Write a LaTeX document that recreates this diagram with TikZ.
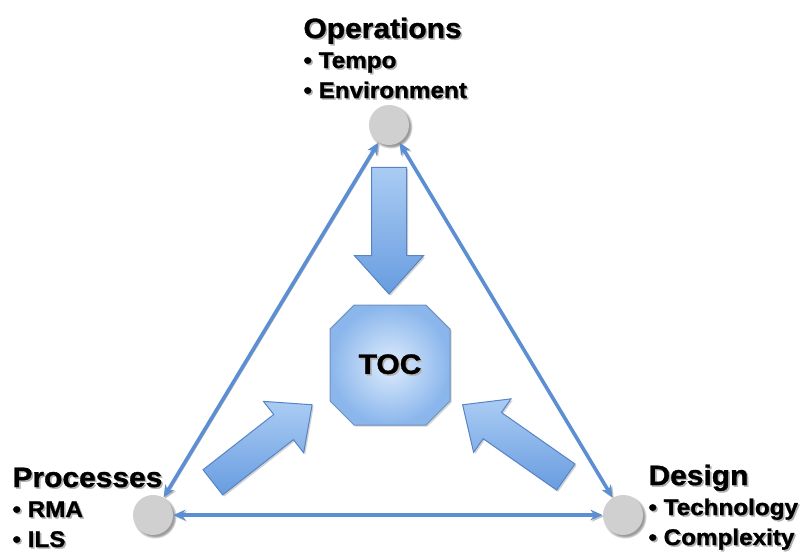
\documentclass[tikz,border=0pt]{standalone}
\usepackage{fontspec}
\setmainfont{Liberation Sans}[FakeStretch=1.07,FakeBold=1.2]
\usetikzlibrary{shapes.misc,shapes.arrows,shadows,arrows.meta}

\definecolor{linkblue}{RGB}{91,142,210}
\definecolor{arrowdark}{RGB}{104,156,224}
\definecolor{arrowlight}{RGB}{170,204,243}
\definecolor{arrowedge}{RGB}{86,132,198}
\definecolor{tocin}{RGB}{222,236,252}
\definecolor{tocout}{RGB}{138,182,236}
\definecolor{dotgray}{RGB}{208,208,208}

% text with a soft grey shadow
\newcommand{\shd}[1]{\rlap{\kern1.2pt\raisebox{-1.2pt}{\color{black!30}#1}}#1}
\newcommand{\hd}[1]{{\fontsize{21}{22.5}\selectfont\shd{#1}}}

\tikzset{every picture/.style={line width=0.75pt},
	corner/.style={circle,fill=dotgray,minimum size=30pt,inner sep=0pt,
		circular drop shadow={shadow xshift=1.2pt,shadow yshift=-1.2pt,fill=black!40}},
	link/.style={draw=linkblue,line width=2.7pt,{Stealth[length=9pt,width=8pt]}-{Stealth[length=9pt,width=8pt]},
		preaction={draw=black!25,transform canvas={xshift=1pt,yshift=-1pt}}},
	bigarrow/.style={single arrow,draw=arrowedge,line width=0.75pt,top color=arrowlight,bottom color=arrowdark,
		inner xsep=0pt,single arrow tip angle=84,
		drop shadow={shadow xshift=1.2pt,shadow yshift=-1.2pt,fill=black!35}},
	lbl/.style={align=left,inner sep=0pt,anchor=base west,font=\bfseries\fontsize{17}{22.5}\selectfont}
}

\begin{document}
\begin{tikzpicture}[x=0.75pt,y=-0.75pt]
	\useasboundingbox (0,0) rectangle (801,558);
	
	%Corner dots
	\node[corner] (opsdot) at (389,125) {};
	\node[corner] (procdot) at (153,515) {};
	\node[corner] (desdot) at (623,515) {};
	
	%Centre box
	\node[chamfered rectangle,chamfered rectangle xsep=10pt,chamfered rectangle ysep=10pt,
		minimum width=90pt,minimum height=90pt,inner sep=0pt,draw=tocout!80!black,
		inner color=tocin,outer color=tocout,
		drop shadow={shadow xshift=1.2pt,shadow yshift=-1.2pt,fill=black!35},
		font=\bfseries\fontsize{21}{24}\selectfont] (toc) at (390,365) {\shd{TOC}};
	
	%Block arrows
	\node[bigarrow,minimum height=95pt,inner ysep=12.75pt,single arrow head extend=12.75pt,rotate=-90] (opsarr) at (389,221) {};
	\node[bigarrow,minimum height=94.5pt,inner ysep=11.6pt,single arrow head extend=12.5pt,rotate=38] (procarr) at (255.5,449) {};
	\node[bigarrow,minimum height=94.5pt,inner ysep=11.6pt,single arrow head extend=12.5pt,rotate=145] (desarr) at (521.5,446) {};
	
	%Straight Lines
	\draw[link] (opsdot) -- (procdot);
	\draw[link] (opsdot) -- (desdot);
	\draw[link] (procdot) -- (desdot);
	
	% Text Node
	\node[lbl] (ops) at (303,98) {\hd{Operations}\\\shd{• Tempo}\\\shd{• Environment}};
	% Text Node
	\node[lbl] (proc) at (12,547) {\hd{Processes}\\\shd{• RMA}\\\shd{• ILS}};
	% Text Node
	\node[lbl] (des) at (648,545) {\hd{Design}\\\shd{• Technology}\\\shd{• Complexity}};
	
\end{tikzpicture}
\end{document}
